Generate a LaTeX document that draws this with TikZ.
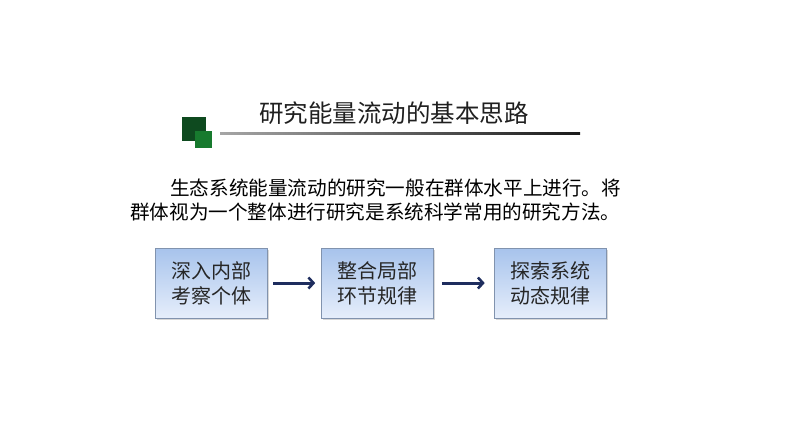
\documentclass[tikz,border=0pt]{standalone}
\usepackage{fontspec}
\newfontfamily\cjk{Noto Sans CJK SC}
\usetikzlibrary{arrows.meta,shadows}
\definecolor{dkgreen}{HTML}{0E4A1F}
\definecolor{ltgreen}{HTML}{177A2E}
\definecolor{boxtop}{HTML}{A7C3EC}
\definecolor{boxbot}{HTML}{E6EEFB}
\definecolor{boxedge}{HTML}{8193AE}
\definecolor{arrowc}{HTML}{1E2D5E}
\tikzset{
  stepbox/.style={draw=boxedge, line width=0.6pt, top color=boxtop, bottom color=boxbot,
    minimum width=112pt, minimum height=70pt, inner sep=0pt, align=center,
    font=\cjk\fontsize{20pt}{25pt}\selectfont, text=black!85,
    drop shadow={shadow xshift=1.5pt, shadow yshift=-1.5pt, fill=black!30, opacity=0.5}},
  flowarrow/.style={draw=arrowc, line width=3pt, -{Straight Barb[length=5pt,width=11pt,line width=2.6pt]}},
  para/.style={anchor=west, inner sep=0pt, font=\cjk\fontsize{19.6pt}{24pt}\selectfont, text=black}
}
\begin{document}
\begin{tikzpicture}[x=1pt,y=1pt]
\useasboundingbox (0,0) rectangle (794,-447);
% decorative squares
\fill[dkgreen] (182,-117) rectangle (206,-141);
\fill[ltgreen] (195,-131) rectangle (212,-148);
% gradient rule
\shade[left color=black!35, right color=black!90] (220,-132.4) rectangle (580,-134.2);
% title
\node[inner sep=0pt, font=\cjk\fontsize{24.5pt}{28pt}\selectfont, text=black!88] (title) at (394,-113) {研究能量流动的基本思路};
% paragraph
\node[para] (p1) at (170,-188) {生态系统能量流动的研究一般在群体水平上进行。将};
\node[para] (p2) at (130,-212) {群体视为一个整体进行研究是系统科学常用的研究方法。};
% boxes
\node[stepbox] (b1) at (211,-283) {深入内部\\考察个体};
\node[stepbox] (b2) at (377.5,-283) {整合局部\\环节规律};
\node[stepbox] (b3) at (550,-283) {探索系统\\动态规律};
% arrows
\draw[flowarrow] ([xshift=6pt]b1.east) -- ([xshift=-6pt]b2.west);
\draw[flowarrow] ([xshift=8pt]b2.east) -- ([xshift=-9pt]b3.west);
\end{tikzpicture}
\end{document}
